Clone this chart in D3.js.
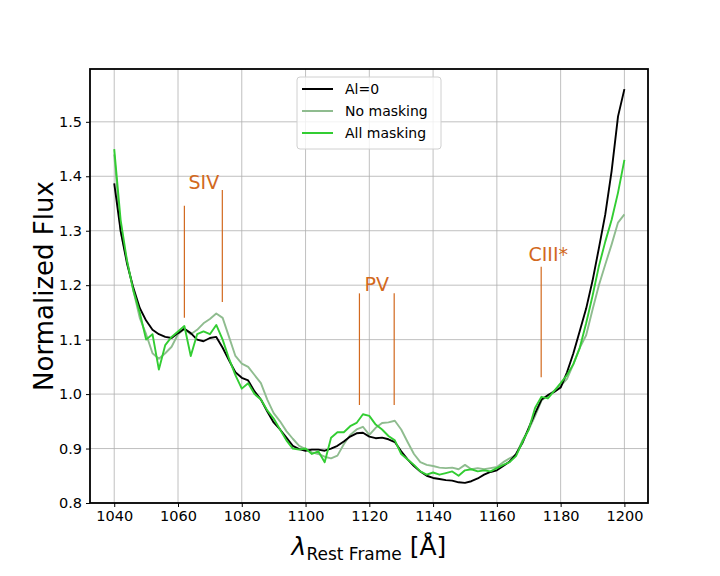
<!DOCTYPE html>
<html>
<head>
<meta charset="utf-8">
<script src="https://cdn.jsdelivr.net/npm/d3@7.9.0/dist/d3.min.js"></script>
<style>
  body { margin: 0; background: #fff; }
  text { font-family: "DejaVu Sans", sans-serif; }
</style>
</head>
<body>
<svg id="chart" width="720" height="576"></svg>
<script>
// wavelength grid (Å), 2 Å steps
const wave = d3.range(1040, 1201, 2);

const fluxAl0 = [
  1.387, 1.30, 1.24, 1.195, 1.158, 1.135, 1.118, 1.11, 1.105, 1.103,
  1.112, 1.12, 1.112, 1.10, 1.097, 1.103, 1.105, 1.085, 1.062, 1.04,
  1.03, 1.025, 1.005, 0.99, 0.968, 0.948, 0.935, 0.92, 0.905, 0.899,
  0.896, 0.898, 0.898, 0.896, 0.90, 0.905, 0.913, 0.922, 0.928, 0.929,
  0.922, 0.919, 0.92, 0.917, 0.912, 0.895, 0.88, 0.868, 0.858, 0.85,
  0.846, 0.844, 0.842, 0.841, 0.838, 0.837, 0.84, 0.845, 0.852, 0.857,
  0.86, 0.868, 0.876, 0.89, 0.91, 0.938, 0.965, 0.99, 0.998, 1.004,
  1.012, 1.04, 1.075, 1.116, 1.157, 1.208, 1.268, 1.33, 1.41, 1.51,
  1.56
];

const fluxNoMask = [
  1.44, 1.30, 1.245, 1.19, 1.14, 1.11, 1.075, 1.065, 1.075, 1.087,
  1.11, 1.12, 1.11, 1.118, 1.13, 1.138, 1.148, 1.14, 1.105, 1.07,
  1.056, 1.05, 1.035, 1.02, 0.99, 0.965, 0.95, 0.932, 0.918, 0.905,
  0.899, 0.893, 0.89, 0.885, 0.882, 0.887, 0.908, 0.925, 0.935, 0.94,
  0.925, 0.938, 0.947, 0.948, 0.951, 0.935, 0.912, 0.89, 0.875, 0.87,
  0.868, 0.865, 0.864, 0.865, 0.862, 0.87, 0.862, 0.864, 0.862, 0.864,
  0.866, 0.875, 0.882, 0.888, 0.915, 0.935, 0.96, 0.988, 0.998, 1.006,
  1.015, 1.028, 1.055, 1.085, 1.108, 1.155, 1.20, 1.238, 1.275, 1.315,
  1.33
];

const fluxAllMask = [
  1.45, 1.32, 1.245, 1.19, 1.15, 1.10, 1.11, 1.045, 1.09, 1.105,
  1.115, 1.125, 1.07, 1.11, 1.115, 1.11, 1.127, 1.10, 1.065, 1.035,
  1.01, 1.02, 1.00, 0.99, 0.97, 0.955, 0.935, 0.915, 0.90, 0.898,
  0.90, 0.89, 0.895, 0.875, 0.92, 0.93, 0.93, 0.941, 0.947, 0.963,
  0.96, 0.944, 0.935, 0.923, 0.915, 0.89, 0.88, 0.87, 0.858, 0.852,
  0.856, 0.852, 0.855, 0.858, 0.85, 0.86, 0.862, 0.858, 0.86, 0.858,
  0.864, 0.87, 0.875, 0.886, 0.912, 0.935, 0.975, 0.995, 0.992, 1.006,
  1.02, 1.035, 1.055, 1.085, 1.13, 1.18, 1.235, 1.28, 1.32, 1.37,
  1.43
];

const seriesNames = ["Al=0", "No masking", "All masking"];
const seriesColors = ["#000000", "#8fbc8f", "#32cd32"];

const xTicks = [1040, 1060, 1080, 1100, 1120, 1140, 1160, 1180, 1200];
const yTicks = [0.8, 0.9, 1.0, 1.1, 1.2, 1.3, 1.4, 1.5];

// absorption line markers: label, wavelengths, flux range of the bars
const lineLabels = ["SIV", "PV", "CIII*"];
const lineWaves = [[1062, 1073.9], [1116.9, 1127.8], [1173.9]];
const lineRanges = [[[1.14, 1.346], [1.169, 1.375]], [[0.98, 1.185], [0.98, 1.185]], [[1.031, 1.234]]];
const labelPos = [[1063.3, 1.377], [1118.5, 1.19], [1169.9, 1.245]];

const svg = d3.select("#chart");
const mLeft = 90, mRight = 648, mTop = 69, mBottom = 503;

const x = d3.scaleLinear().domain([1032.4, 1207.4]).range([mLeft, mRight]);
const y = d3.scaleLinear().domain([0.8, 1.597]).range([mBottom, mTop]);

// grid
svg.append("g").selectAll("line").data(xTicks).join("line")
  .attr("x1", d => x(d)).attr("x2", d => x(d))
  .attr("y1", mTop).attr("y2", mBottom)
  .attr("stroke", "#b0b0b0").attr("stroke-width", 0.8);
svg.append("g").selectAll("line").data(yTicks).join("line")
  .attr("x1", mLeft).attr("x2", mRight)
  .attr("y1", d => y(d)).attr("y2", d => y(d))
  .attr("stroke", "#b0b0b0").attr("stroke-width", 0.8);

// data lines: light green first, then black, then bright green on top
const plot = svg.append("g");
const line = d3.line().x((d, i) => x(wave[i])).y(d => y(d));
const allSeries = [fluxAl0, fluxNoMask, fluxAllMask];
[1, 0, 2].forEach(i => {
  plot.append("path")
    .datum(allSeries[i])
    .attr("d", line)
    .attr("fill", "none")
    .attr("stroke", seriesColors[i])
    .attr("stroke-width", 1.9)
    .attr("stroke-linejoin", "round");
});

// line markers
const orange = "#d2691e";
lineWaves.forEach((ws, k) => {
  ws.forEach((w, j) => {
    svg.append("line")
      .attr("x1", x(w)).attr("x2", x(w))
      .attr("y1", y(lineRanges[k][j][0])).attr("y2", y(lineRanges[k][j][1]))
      .attr("stroke", orange).attr("stroke-width", 1.2);
  });
  svg.append("text")
    .attr("x", x(labelPos[k][0])).attr("y", y(labelPos[k][1]))
    .attr("fill", orange).attr("font-size", 19)
    .text(lineLabels[k]);
});

// axes
const xAxis = svg.append("g").attr("transform", `translate(0,${mBottom})`)
  .call(d3.axisBottom(x).tickValues(xTicks).tickSize(4).tickPadding(4).tickFormat(d3.format("d")));
const yAxis = svg.append("g").attr("transform", `translate(${mLeft},0)`)
  .call(d3.axisLeft(y).tickValues(yTicks).tickSize(4).tickPadding(4).tickFormat(d3.format(".1f")));
[xAxis, yAxis].forEach(g => {
  g.select(".domain").remove();
  g.selectAll("text").attr("font-size", 14.5).attr("fill", "#000")
    .attr("font-family", "DejaVu Sans, sans-serif");
  g.selectAll(".tick line").attr("stroke", "#000").attr("stroke-width", 1);
});

// frame
svg.append("rect")
  .attr("x", mLeft).attr("y", mTop)
  .attr("width", mRight - mLeft).attr("height", mBottom - mTop)
  .attr("fill", "none").attr("stroke", "#000").attr("stroke-width", 1.8);

// axis labels
svg.append("text")
  .attr("transform", `translate(53,${(mTop + mBottom) / 2}) rotate(-90)`)
  .attr("text-anchor", "middle")
  .attr("font-size", 26)
  .text("Normalized Flux");

const xl = svg.append("text")
  .attr("x", (mLeft + mRight) / 2).attr("y", 555)
  .attr("text-anchor", "middle")
  .attr("font-size", 25);
xl.append("tspan").attr("font-style", "italic").text("λ");
xl.append("tspan").attr("font-size", 17).attr("dy", 5).text("Rest Frame");
xl.append("tspan").attr("dy", -5).text(" [Å]");

// legend
const leg = svg.append("g").attr("transform", "translate(297,77)");
leg.append("rect").attr("width", 144).attr("height", 72).attr("rx", 3)
  .attr("fill", "#fff").attr("fill-opacity", 0.8)
  .attr("stroke", "#d0d0d0").attr("stroke-width", 1);
seriesNames.forEach((name, i) => {
  const yy = 12 + i * 22;
  leg.append("line").attr("x1", 5).attr("x2", 36).attr("y1", yy).attr("y2", yy)
    .attr("stroke", seriesColors[i]).attr("stroke-width", 2);
  leg.append("text").attr("x", 48).attr("y", yy + 5)
    .attr("font-size", 14).text(name);
});
</script>
</body>
</html>
